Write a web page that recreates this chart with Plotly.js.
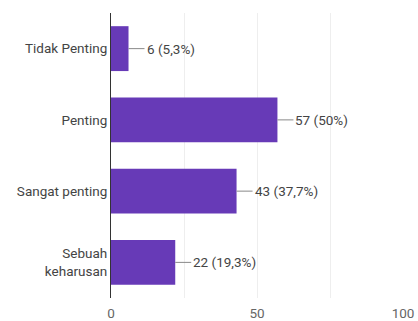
<!DOCTYPE html>
<html>
<head>
<meta charset="utf-8">
<script src="https://cdn.plot.ly/plotly-3.0.1.min.js"></script>
<style>html,body{margin:0;padding:0;background:#fff;}#chart{width:418px;height:321px;}</style>
</head>
<body>
<div id="chart"></div>
<script>
const categories = ["Tidak Penting", "Penting", "Sangat penting", "Sebuah<br>keharusan"];
const counts = [6, 57, 43, 22];
const percents = ["5,3%", "50%", "37,7%", "19,3%"];
const xTicks = [0, 50, 100];

const labels = counts.map((c, i) => c + " (" + percents[i] + ")");

const trace = {
  type: "bar",
  orientation: "h",
  y: categories,
  x: counts,
  marker: {color: "#673ab7"},
  hoverinfo: "none"
};

const annotations = counts.map((c, i) => ({
  x: c, y: categories[i], xref: "x", yref: "y",
  text: labels[i], showarrow: true, arrowhead: 0, arrowwidth: 1,
  arrowcolor: "#888", ax: 16, ay: 0, xanchor: "left", standoff: 0,
  font: {family: "Roboto", size: 13.5, color: "#444"}
}));

const layout = {
  width: 418, height: 321,
  margin: {l: 111, r: 15, t: 13, b: 23},
  paper_bgcolor: "#fff", plot_bgcolor: "#fff",
  showlegend: false,
  bargap: 0.37,
  font: {family: "Roboto", size: 13.5, color: "#444"},
  xaxis: {
    range: [0, 100], tickvals: xTicks, showgrid: true, gridcolor: "#eeeeee",
    minor: {dtick: 25, showgrid: true, gridcolor: "#eeeeee"},
    zeroline: false, showline: false, ticks: "", fixedrange: true,
    ticklabelstandoff: 5,
    tickfont: {family: "Roboto", size: 13.5, color: "#666"}
  },
  yaxis: {
    autorange: "reversed", showline: true, linecolor: "#333", linewidth: 1,
    ticks: "", showgrid: false, zeroline: false, fixedrange: true,
    tickfont: {family: "Roboto", size: 13.5, color: "#444"}
  },
  annotations: annotations
};

Plotly.newPlot("chart", [trace], layout, {displayModeBar: false, staticPlot: true});
</script>
</body>
</html>
